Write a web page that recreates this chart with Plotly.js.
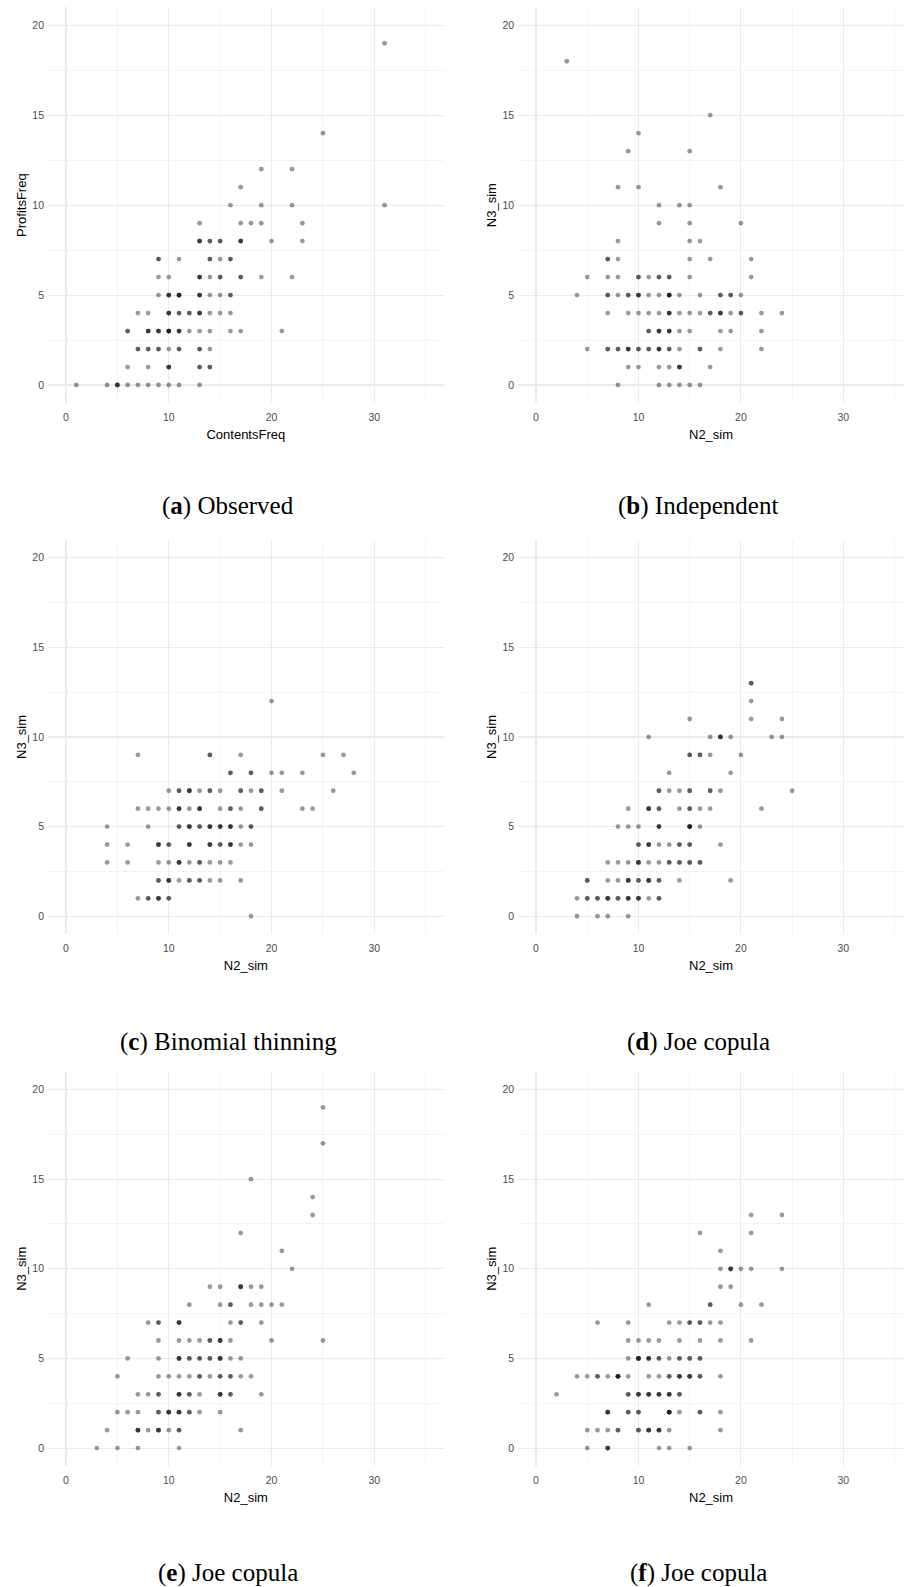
<!DOCTYPE html>
<html>
<head>
<meta charset="utf-8">
<script src="https://cdn.plot.ly/plotly-3.0.1.min.js"></script>
<style>html,body{margin:0;padding:0;background:#fff;}#chart{width:904px;height:1587px;}</style>
</head>
<body>
<div id="chart"></div>
<script>
// ---- (a) Observed: x, y, number of overlapping observations ----
const obsX = [31, 25, 19,22, 17, 16,19,22,31, 13,17,18,19,23, 13,14,15,17,20,23, 9,11,14,15,16, 9,10,13,14,15,17,19,22, 9,10,11,13,14,15,16, 7,8,10,11,12,13,14,15,16, 6,8,9,10,11,12,13,14,16,17,21, 7,8,9,10,11,13,14, 6,8,10,13,14, 1,4,5,6,7,8,9,10,11,13];
const obsY = [19, 14, 12,12, 11, 10,10,10,10, 9,9,9,9,9, 8,8,8,8,8,8, 7,7,7,7,7, 6,6,6,6,6,6,6,6, 5,5,5,5,5,5,5, 4,4,4,4,4,4,4,4,4, 3,3,3,3,3,3,3,3,3,3,3, 2,2,2,2,2,2,2, 1,1,1,1,1, 0,0,0,0,0,0,0,0,0,0];
const obsN = [1, 1, 1,1, 1, 1,1,1,1, 1,1,1,1,1, 3,2,2,3,1,1, 2,1,2,1,2, 1,1,3,1,2,2,1,1, 1,3,4,3,1,1,2, 1,1,3,2,2,3,1,1,1, 2,3,3,4,3,1,1,1,1,1,1, 2,2,2,1,2,2,1, 1,1,3,2,2, 1,1,3,1,1,1,1,1,1,1];

// ---- (b) Independent ----
const indX = [3, 17, 10, 9,15, 8,10,18, 12,14,15, 12,15,20, 8,15,16, 7,8,15,17,21, 5,7,8,10,11,12,13,15,21, 4,7,8,9,10,11,12,13,14,16,18,19,20, 7,9,10,11,12,13,14,15,16,17,18,19,20,22,24, 11,12,13,14,15,18,19,22, 5,7,8,9,10,11,12,13,14,16,18,22, 9,10,12,13,14,17, 8,12,13,14,15,16];
const indY = [18, 15, 14, 13,13, 11,11,11, 10,10,10, 9,9,9, 8,8,8, 7,7,7,7,7, 6,6,6,6,6,6,6,6,6, 5,5,5,5,5,5,5,5,5,5,5,5,5, 4,4,4,4,4,4,4,4,4,4,4,4,4,4,4, 3,3,3,3,3,3,3,3, 2,2,2,2,2,2,2,2,2,2,2,2, 1,1,1,1,1,1, 0,0,0,0,0,0];
const indN = [1, 1, 1, 1,1, 1,1,1, 1,1,1, 1,1,1, 1,1,1, 2,1,1,1,1, 1,1,1,2,1,2,2,1,1, 1,2,1,2,3,1,1,4,1,1,2,2,1, 1,1,1,1,1,3,1,1,1,2,3,1,2,1,1, 2,3,3,1,1,1,1,1, 1,2,2,3,2,2,3,2,1,2,1,1, 1,1,1,1,3,1, 1,1,1,1,1,1];

// ---- (c) Binomial thinning ----
const binX = [20, 7,14,17,25,27, 16,18,20,21,23,28, 10,11,12,13,14,15,17,18,19,21,26, 7,8,9,10,11,12,13,15,16,17,19,23,24, 4,8,11,12,13,14,15,16,17,18, 4,6,9,10,12,14,15,16,17,18, 4,6,9,10,11,12,13,14,15,16, 9,10,11,12,13,14,15,17, 7,8,9,10, 18];
const binY = [12, 9,9,9,9,9, 8,8,8,8,8,8, 7,7,7,7,7,7,7,7,7,7,7, 6,6,6,6,6,6,6,6,6,6,6,6,6, 5,5,5,5,5,5,5,5,5,5, 4,4,4,4,4,4,4,4,4,4, 3,3,3,3,3,3,3,3,3,3, 2,2,2,2,2,2,2,2, 1,1,1,1, 0];
const binN = [1, 1,2,1,1,1, 2,2,1,1,1,1, 1,2,3,1,2,1,2,1,2,1,1, 1,1,1,1,3,1,3,1,2,1,2,1,1, 1,1,2,3,2,3,3,3,1,2, 1,1,3,2,3,3,2,3,1,1, 1,1,1,1,3,1,2,1,1,1, 2,3,1,2,2,1,1,1, 1,2,3,2, 1];

// ---- (d) Joe copula ----
const joeAX = [21, 21, 15,21,24, 11,17,18,19,23,24, 15,16,17,20, 13,19, 12,13,14,15,17,18,25, 9,11,12,14,15,16,17,22, 8,9,10,12,15,16, 10,11,12,13,14,15,18, 7,8,9,10,11,12,13,14,15,16, 5,7,8,9,10,11,12,14,19, 4,5,6,7,8,9,10,11,12, 4,6,7,9];
const joeAY = [13, 12, 11,11,11, 10,10,10,10,10,10, 9,9,9,9, 8,8, 7,7,7,7,7,7,7, 6,6,6,6,6,6,6,6, 5,5,5,5,5,5, 4,4,4,4,4,4,4, 3,3,3,3,3,3,3,3,3,3, 2,2,2,2,2,2,2,2,2, 1,1,1,1,1,1,1,1,1, 0,0,0,0];
const joeAN = [2, 1, 1,1,1, 1,1,3,1,1,1, 2,2,1,1, 1,1, 2,1,1,2,2,1,1, 1,3,2,1,2,1,1,1, 1,1,1,3,4,1, 2,3,1,1,2,2,1, 1,1,1,3,1,1,2,2,2,2, 2,1,1,3,2,3,2,1,1, 1,2,2,3,2,3,3,1,2, 1,1,1,1];

// ---- (e) Joe copula ----
const joeBX = [25, 25, 18, 24, 24, 17, 21, 22, 14,15,17,18,19, 12,15,16,18,19,20,21, 8,9,11,16,17,19, 9,11,12,13,14,15,16,20,25, 6,9,11,12,13,14,15,16,17, 5,9,10,11,12,13,14,15,16,17,18, 7,8,9,11,12,13,15,16,19, 5,6,7,9,10,11,12,13,15, 4,7,8,9,10,11,17, 3,5,7,11];
const joeBY = [19, 17, 15, 14, 13, 12, 11, 10, 9,9,9,9,9, 8,8,8,8,8,8,8, 7,7,7,7,7,7, 6,6,6,6,6,6,6,6,6, 5,5,5,5,5,5,5,5,5, 4,4,4,4,4,4,4,4,4,4,4, 3,3,3,3,3,3,3,3,3, 2,2,2,2,2,2,2,2,2, 1,1,1,1,1,1,1, 0,0,0,0];
const joeBN = [1, 1, 1, 1, 1, 1, 1, 1, 1,1,3,1,1, 1,1,2,1,1,1,1, 1,2,3,1,2,1, 1,1,1,1,2,3,1,1,1, 1,1,3,2,2,2,3,1,1, 1,1,1,1,1,2,1,2,2,1,1, 1,1,2,3,2,1,3,2,1, 1,1,1,2,3,3,2,1,1, 1,3,1,3,1,2,1, 1,1,1,1];

// ---- (f) Joe copula ----
const joeCX = [21,24, 16,21, 18, 18,19,20,21,24, 18,19, 11,17,20,22, 6,9,13,14,15,16,17,18, 9,10,11,12,14,16,18,21, 9,10,11,12,13,14,15,16, 4,5,6,7,8,9,11,12,13,14,15,16,18, 2,9,10,11,12,13,14, 7,9,10,13,14,16,18, 5,6,7,8,10,11,12,13,18, 5,7,12,13,15];
const joeCY = [13,13, 12,12, 11, 10,10,10,10,10, 9,9, 8,8,8,8, 7,7,7,7,7,7,7,7, 6,6,6,6,6,6,6,6, 5,5,5,5,5,5,5,5, 4,4,4,4,4,4,4,4,4,4,4,4,4, 3,3,3,3,3,3,3, 2,2,2,2,2,2,2, 1,1,1,1,1,1,1,1,1, 0,0,0,0,0];
const joeCN = [1,1, 1,1, 1, 1,3,1,1,1, 1,1, 1,2,1,1, 1,1,1,1,2,2,1,1, 1,1,1,1,1,1,1,1, 1,4,3,2,1,2,2,2, 1,1,2,1,4,1,1,1,2,3,3,2,1, 1,2,3,3,3,3,2, 3,2,2,4,1,2,1, 1,1,1,2,2,3,3,1,1, 1,3,1,1,1];

// ---- labels ----
const xTitles = ["ContentsFreq", "N2_sim", "N2_sim", "N2_sim", "N2_sim", "N2_sim"];
const yTitles = ["ProfitsFreq", "N3_sim", "N3_sim", "N3_sim", "N3_sim", "N3_sim"];
const captions = ["(<b>a</b>) Observed", "(<b>b</b>) Independent", "(<b>c</b>) Binomial thinning",
                  "(<b>d</b>) Joe copula", "(<b>e</b>) Joe copula", "(<b>f</b>) Joe copula"];

const W = 904, H = 1587;
const panelsData = [[obsX, obsY, obsN], [indX, indY, indN], [binX, binY, binN],
                    [joeAX, joeAY, joeAN], [joeBX, joeBY, joeBN], [joeCX, joeCY, joeCN]];

// plot-area geometry in pixels
const colBox = [
  {x0: 48.0, x1: 443.7, range: [-1.75, 36.75]},
  {x0: 518.1, x1: 904, range: [-1.75, 35.92]}
];
const rowBox = [
  {top: 7.3, bottom: 403.0},
  {top: 539.7, bottom: 934.2},
  {top: 1071.6, bottom: 1466.0}
];
const capY = [506, 1042, 1573];
const capX = [228, 698];

const traces = [];
const layout = {
  width: W, height: H,
  margin: {l: 0, r: 0, t: 0, b: 0},
  paper_bgcolor: "#ffffff", plot_bgcolor: "#ffffff",
  showlegend: false,
  annotations: []
};

const tickFont = {family: "Liberation Sans, Arial, sans-serif", size: 10.5, color: "#4D4D4D"};
const titleFont = {family: "Liberation Sans, Arial, sans-serif", size: 13, color: "#000000"};

panelsData.forEach((d, i) => {
  const col = i % 2, row = Math.floor(i / 2);
  const xs = [], ys = [];
  for (let k = 0; k < d[0].length; k++) {
    for (let m = 0; m < d[2][k]; m++) { xs.push(d[0][k]); ys.push(d[1][k]); }
  }
  const sfx = i === 0 ? "" : String(i + 1);
  traces.push({
    type: "scatter", mode: "markers", x: xs, y: ys,
    xaxis: "x" + sfx, yaxis: "y" + sfx,
    marker: {color: "#000000", opacity: 0.4, size: 4.8, line: {width: 0}},
    hoverinfo: "x+y"
  });
  const cb = colBox[col], rb = rowBox[row];
  layout["xaxis" + sfx] = {
    domain: [cb.x0 / W, cb.x1 / W], range: cb.range, anchor: "y" + sfx,
    tickvals: [0, 10, 20, 30], ticks: "", showline: false, zeroline: false,
    showgrid: true, gridcolor: "#EBEBEB", gridwidth: 1.1,
    minor: {tickvals: [5, 15, 25, 35], showgrid: true, gridcolor: "#F0F0F0", gridwidth: 0.7, ticks: ""},
    tickfont: tickFont, ticklabelstandoff: 6,
    title: {text: xTitles[i], font: titleFont, standoff: 8},
    fixedrange: true
  };
  layout["yaxis" + sfx] = {
    domain: [1 - rb.bottom / H, 1 - rb.top / H], range: [-1, 21], anchor: "x" + sfx,
    tickvals: [0, 5, 10, 15, 20], ticks: "", showline: false, zeroline: false,
    showgrid: true, gridcolor: "#EBEBEB", gridwidth: 1.1,
    minor: {tickvals: [2.5, 7.5, 12.5, 17.5], showgrid: true, gridcolor: "#F0F0F0", gridwidth: 0.7, ticks: ""},
    tickfont: tickFont, ticklabelstandoff: 3,
    title: {text: yTitles[i], font: titleFont, standoff: 2},
    fixedrange: true
  };
  layout.annotations.push({
    text: captions[i], xref: "paper", yref: "paper",
    x: capX[col] / W, y: 1 - capY[row] / H, xanchor: "center", yanchor: "middle",
    showarrow: false,
    font: {family: "Liberation Serif, 'DejaVu Serif', serif", size: 25, color: "#000000"}
  });
});

Plotly.newPlot("chart", traces, layout, {staticPlot: true, displayModeBar: false});
</script>
</body>
</html>
